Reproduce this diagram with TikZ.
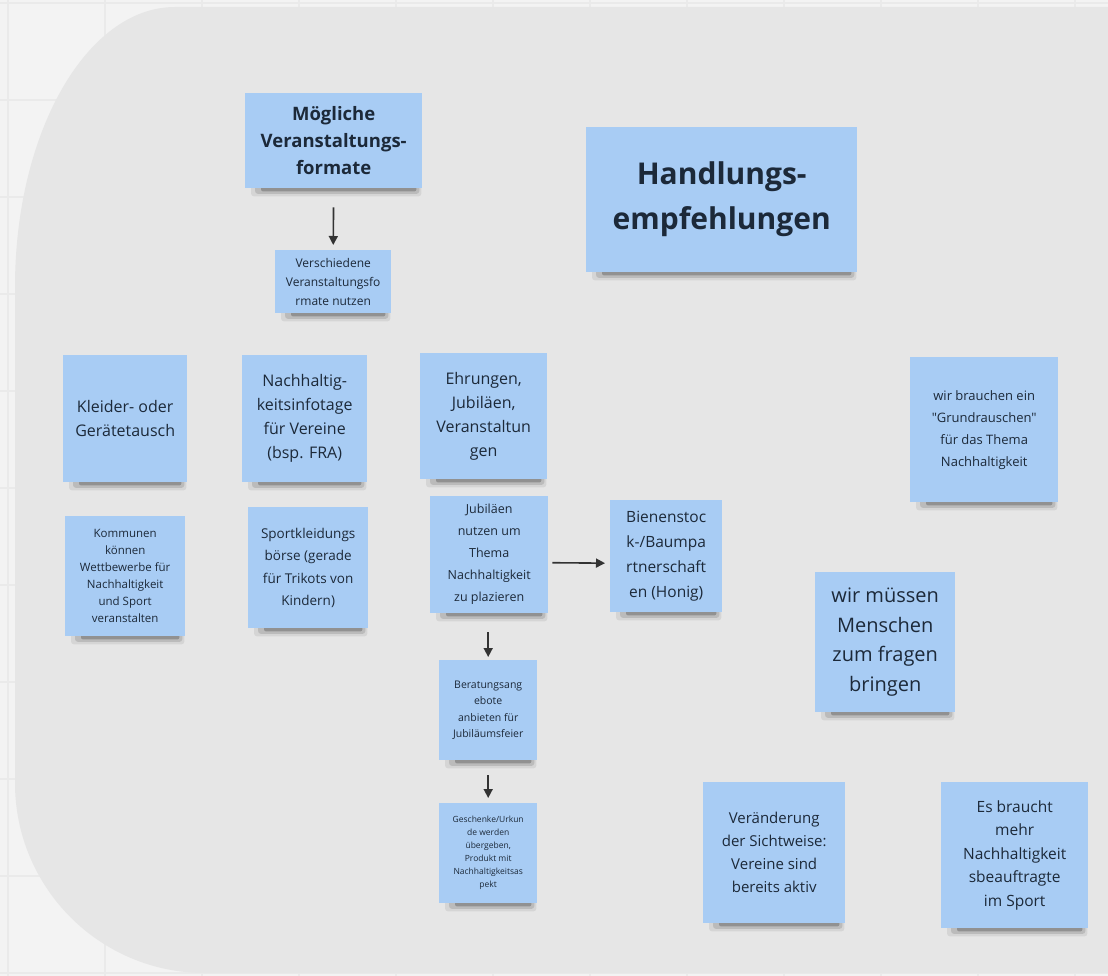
\documentclass[tikz,border=0pt]{standalone}
\usepackage{fontspec}
\setmainfont{Open Sans}[Ligatures=TeXOff]
\usetikzlibrary{arrows.meta}
\definecolor{note}{HTML}{A8CCF4}
\definecolor{ink}{HTML}{1C2939}
\definecolor{board}{HTML}{E6E6E6}
\definecolor{outer}{HTML}{F3F3F3}
\definecolor{gridc}{HTML}{EAEAEA}
\definecolor{arrc}{HTML}{333333}
\pgfdeclarelayer{back}
\pgfdeclarelayer{shade}
\pgfsetlayers{back,shade,main}
\tikzset{
  sticky/.style={fill=note, text=ink, align=center, inner sep=0pt, anchor=north west},
  arr/.style={draw=arrc, line width=1.6pt, -{Triangle[length=9pt,width=9pt]}},
}
\newcommand{\sticky}[8]{%
  \node[sticky, minimum width={#4pt-#2pt}, minimum height={#5pt-#3pt},
        font=\fontsize{#6pt}{#7pt}\selectfont] (#1) at (#2,#3) {#8};
  \begin{pgfonlayer}{shade}
    \fill[black,opacity=0.07,rounded corners=3pt] ([xshift=6pt,yshift=3pt]#1.south west) rectangle ([xshift=-1pt,yshift=-8pt]#1.south east);
    \fill[black,opacity=0.12,rounded corners=3pt] ([xshift=10pt,yshift=3pt]#1.south west) rectangle ([xshift=-3pt,yshift=-5.5pt]#1.south east);
    \fill[black,opacity=0.22,rounded corners=2pt] ([xshift=16pt,yshift=3pt]#1.south west) rectangle ([xshift=-6pt,yshift=-3pt]#1.south east);
  \end{pgfonlayer}%
}
\begin{document}
\begin{tikzpicture}[x=1pt,y=-1pt]
\useasboundingbox (0,0) rectangle (1108,976);
\begin{pgfonlayer}{back}
  \fill[outer] (0,0) rectangle (1108,976);
  \foreach \g in {8,105,202,299,396,493,590,687,784,881,978,1075}
    \draw[gridc, line width=1.2pt] (\g,0) -- (\g,976);
  \foreach \g in {3,100,197,294,391,488,585,682,779,876,973}
    \draw[gridc, line width=1.2pt] (0,\g) -- (1108,\g);
  \fill[board] (175,7) -- (1108,7) -- (1108,973) -- (205,973)
     .. controls (100,973) and (15,888) .. (15,783)
     -- (15,287) .. controls (15,132) and (87,7) .. (175,7) -- cycle;
\end{pgfonlayer}

\sticky{mo}{245}{93}{422}{188}{18.5}{27}{\bfseries Mögliche\\\bfseries Veranstaltungs-\\\bfseries formate}
\sticky{ve}{275}{250}{391}{313}{12}{19}{Verschiedene\\Veranstaltungsfo\\rmate nutzen}
\sticky{ha}{586}{127}{857}{272}{30}{45}{\bfseries Handlungs-\\\bfseries empfehlungen}
\sticky{kl}{63}{355}{187}{482}{16}{24}{Kleider- oder\\Gerätetausch}
\sticky{na}{242}{355}{367}{482}{16}{24}{Nachhaltig-\\keitsinfotage\\für Vereine\\(bsp. FRA)}
\sticky{eh}{420}{353}{547}{479}{16}{24}{Ehrungen,\\Jubiläen,\\Veranstaltun\\gen}
\sticky{ko}{65}{516}{185}{636}{11.5}{17}{Kommunen\\können\\Wettbewerbe für\\Nachhaltigkeit\\und Sport\\veranstalten}
\sticky{sp}{248}{507}{368}{628}{13.5}{22.5}{Sportkleidungs\\börse (gerade\\für Trikots von\\Kindern)}
\sticky{ju}{430}{496}{548}{613}{12.5}{22}{Jubiläen\\nutzen um\\Thema\\Nachhaltigkeit\\zu plazieren}
\sticky{bi}{610}{500}{722}{612}{15.5}{25}{Bienenstoc\\k-/Baumpa\\rtnerschaft\\en (Honig)}
\sticky{be}{439}{660}{537}{760}{10.5}{16.5}{Beratungsang\\ebote\\anbieten für\\Jubiläumsfeier}
\sticky{ge}{439}{803}{537}{903}{8.5}{13}{Geschenke/Urkun\\de werden\\übergeben,\\Produkt mit\\Nachhaltigkeitsas\\pekt}
\sticky{gr}{910}{357}{1058}{502}{13}{22}{wir brauchen ein\\"Grundrauschen"\\für das Thema\\Nachhaltigkeit}
\sticky{wi}{815}{572}{955}{712}{20}{29.5}{wir müssen\\Menschen\\zum fragen\\bringen}
\sticky{vr}{703}{782}{845}{923}{15}{23}{Veränderung\\der Sichtweise:\\Vereine sind\\bereits aktiv}
\sticky{es}{941}{782}{1088}{928}{15.5}{23.5}{Es braucht\\mehr\\Nachhaltigkeit\\sbeauftragte\\im Sport}

\draw[arr, shorten <=19pt, shorten >=5pt] (mo.south) -- (ve.north);
\draw[arr, shorten <=4pt, shorten >=5pt] ([yshift=-8pt]ju.east) -- ([yshift=-7pt]bi.west);
\draw[arr, shorten <=19pt, shorten >=3pt] (be.north |- ju.south) -- (be.north);
\draw[arr, shorten <=15pt, shorten >=5pt] (be.south) -- (ge.north);
\end{tikzpicture}
\end{document}
